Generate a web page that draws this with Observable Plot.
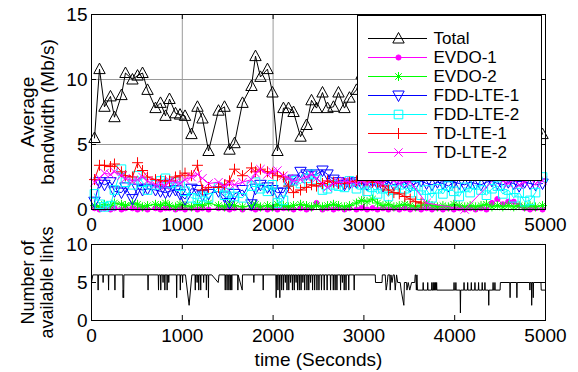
<!DOCTYPE html>
<html><head><meta charset="utf-8">
<script src="https://cdn.jsdelivr.net/npm/d3@7"></script>
<script src="https://cdn.jsdelivr.net/npm/@observablehq/plot@0.6"></script>
<style>
body{margin:0;background:#fff;}
#wrap{position:relative;width:578px;height:372px;font-family:"Liberation Sans",Arial,sans-serif;background:#fff;}
#wrap svg{display:block;}
#legend{position:absolute;left:357px;top:15px;}
</style></head><body><div id="wrap"><div id="top"></div><div id="bottom"></div><div id="legend"></div></div>
<script>
// ---------- data ----------
const times = [33,88,143,209,253,330,374,451,507,562,617,705,760,815,859,925,975,1030,1101,1167,1222,1289,1399,1465,1520,1575,1663,1762,1806,1861,1938,1993,2048,2114,2170,2225,2302,2368,2423,2478,2544,2599,2665,2720,2786,2841,2918,2975,3035,3095,3150,3210,3270,3330,3390,3450,3510,3570,3630,3690,3750,3810,3870,3930,3990,4050,4110,4170,4230,4290,4350,4410,4470,4530,4590,4650,4710,4770,4830,4890,4967];

const total = [5.5,10.8,7.9,8.7,7.1,8.8,10.5,10.0,10.3,10.5,9.2,7.8,8.2,7.2,8.5,7.4,7.3,7.2,5.8,7.9,7.0,4.5,7.6,7.9,4.6,5.1,8.2,9.5,11.8,10.2,10.8,9.0,4.5,7.8,7.8,7.5,5.6,6.5,8.4,7.8,9.0,7.8,7.9,9.0,7.8,8.6,9.2,10.4,9.0,10.2,9.4,8.8,9.8,8.5,7.6,8.2,7.0,6.6,7.4,6.8,7.2,6.5,6.9,7.3,6.4,6.8,6.1,6.9,7.1,6.6,6.3,7.0,6.7,6.4,7.2,6.9,6.5,7.0,6.8,7.4,5.8];

const evdo1 = [0.1,0.0,0.1,0.0,0.1,0.0,0.1,0.1,0.0,0.1,0.0,0.1,0.0,0.1,0.1,0.0,0.1,0.0,0.1,0.0,0.1,0.0,0.1,0.1,0.0,0.1,0.0,0.1,0.0,0.1,0.0,0.1,0.0,0.1,0.1,0.0,0.1,0.0,0.1,0.5,0.0,0.1,0.0,0.1,0.0,0.1,0.0,0.1,0.0,0.1,0.0,0.1,0.0,0.1,0.0,0.1,0.0,0.1,0.0,0.1,0.0,0.1,0.0,0.1,0.0,0.1,0.0,0.1,0.0,0.1,0.0,0.5,0.8,0.4,0.6,0.6,0.3,0.1,0.0,0.1,0.0];

const evdo2 = [0.3,0.2,0.4,0.3,0.5,0.4,0.3,0.5,0.4,0.2,0.3,0.4,0.3,0.5,0.3,0.2,0.4,0.3,0.2,0.4,0.3,0.5,0.3,0.2,0.4,0.3,0.2,0.3,0.4,0.2,0.3,0.2,0.4,0.3,0.2,0.3,0.4,0.3,0.2,0.3,0.2,0.3,0.4,0.3,0.2,0.3,0.5,0.7,0.6,0.8,0.5,0.3,0.4,0.2,0.3,0.4,0.3,0.2,0.3,0.4,0.3,0.2,0.3,0.2,0.4,0.3,0.2,0.3,0.2,0.3,0.4,0.2,0.3,0.2,0.3,0.2,0.3,0.2,0.3,0.2,0.3];

const fddLte1 = [0.6,2.1,1.9,2.1,1.4,1.3,1.7,0.8,1.6,1.5,1.6,1.5,1.4,1.3,1.4,1.5,1.2,0.8,1.6,1.5,1.1,1.2,1.4,1.0,0.5,1.2,1.5,0.4,1.6,1.9,1.7,1.5,1.3,1.3,2.0,2.3,2.9,2.7,2.6,2.7,3.0,2.7,2.3,2.1,1.9,2.0,2.1,2.0,1.9,2.2,2.0,1.8,2.1,1.9,2.0,2.1,1.8,2.0,2.2,2.0,1.9,2.1,2.0,1.8,2.1,2.0,1.9,2.1,2.0,1.9,2.1,2.2,2.0,1.9,2.1,2.0,1.8,2.1,2.0,1.9,2.0];

const fddLte2 = [1.2,0.4,0.2,0.3,1.5,3.1,2.1,1.9,2.6,2.1,1.5,1.9,2.2,2.4,2.0,2.1,1.8,1.4,0.9,0.8,1.0,0.9,1.7,1.1,1.3,1.0,0.9,1.8,2.1,1.6,1.4,1.9,0.5,0.7,2.1,2.2,2.0,2.4,2.7,2.3,1.5,1.6,1.9,1.8,1.7,2.2,1.6,1.9,1.4,1.7,1.2,1.6,1.0,1.5,1.9,1.6,1.3,1.8,1.1,1.5,0.9,1.6,1.2,1.8,1.4,1.0,1.7,1.3,1.9,1.5,1.1,1.6,1.8,1.2,1.5,0.9,1.3,0.6,0.7,1.3,2.5];

const tdLte1 = [2.3,3.4,3.4,3.3,3.5,2.9,2.6,2.5,3.6,3.0,2.5,2.3,2.2,2.2,2.2,2.5,2.6,2.8,2.6,3.4,1.5,1.7,1.7,1.9,2.2,3.1,2.6,3.2,2.9,3.1,2.9,2.8,2.6,2.5,1.8,1.3,1.5,1.7,1.9,1.8,2.0,2.2,2.1,2.0,2.0,2.1,2.2,2.3,2.2,2.1,2.1,1.8,1.5,1.3,1.2,1.0,0.8,0.6,0.5,null,null,null,null,null,null,null,null,null,null,null,null,null,null,null,null,null,null,null,null,null,null];

const tdLte2 = [2.1,2.4,2.8,2.7,2.9,2.6,2.4,2.2,2.3,2.5,2.2,1.9,2.0,1.8,2.2,2.1,2.0,2.3,2.5,2.7,2.4,2.0,2.1,1.8,2.0,1.9,2.1,2.3,2.8,3.1,2.7,2.9,3.0,2.6,2.4,2.2,2.3,2.5,2.7,2.4,2.0,1.7,2.0,2.1,2.2,2.1,2.0,2.2,2.0,2.3,2.1,2.0,2.4,2.2,2.0,2.2,2.1,null,null,0.5,null,null,null,null,null,null,0.0,null,null,null,null,null,2.6,2.2,2.0,2.3,1.9,2.1,2.4,2.0,2.2];

const seriesNames = ["Total","EVDO-1","EVDO-2","FDD-LTE-1","FDD-LTE-2","TD-LTE-1","TD-LTE-2"];
const seriesValues = [total, evdo1, evdo2, fddLte1, fddLte2, tdLte1, tdLte2];
const seriesColors = ["#000000","#ff00ff","#00ff00","#0000ff","#00ffff","#ff0000","#ff00ff"];

// number of available links: [time, count]
const linkSamples = [[0,5],[15,6],[70,6],[73,4],[76,6],[125,6],[128,5],[131,6],[185,6],[188,4],[191,6],[255,6],[258,4],[261,6],[345,6],[348,3],[351,4],[354,3],[357,6],
[620,6],[623,4],[626,6],
[735,6],[738,4],[741,6],[760,6],[763,4],[766,6],[785,6],[788,5],[791,6],[805,6],[808,4],[811,6],[830,6],[833,4],[836,6],[848,6],[851,5],[854,6],
[935,6],[938,3],[941,6],[975,6],[978,4],[981,6],[1000,6],[1003,5],[1006,6],
[1035,6],[1075,2],[1105,6],
[1140,6],[1143,4],[1146,6],[1160,6],[1163,5],[1166,6],[1178,6],[1181,4],[1184,6],[1200,6],[1203,4],[1206,6],[1232,6],[1235,5],[1238,6],[1262,6],[1265,4],[1268,6],[1285,6],[1288,3],[1291,6],
[1325,6],[1395,5],[1405,6],
[1470,6],[1473,4],[1476,6],[1490,6],[1493,4],[1496,6],[1510,6],[1513,4],[1516,6],[1526,6],[1529,4],[1532,6],[1542,6],[1545,4],[1548,6],
[1610,6],[1612,4],[1615,6],[1660,4],[1663,6],
[1785,6],[1788,5],[1791,6],
[1888,6],[1891,4],[1894,6],
[2030,6],[2034,3],[2038,6],[2050,6],[2053,4],[2056,6],[2070,6],[2074,3],[2078,6],[2092,6],[2095,4],[2098,6],
[2112,6],[2115,4],[2118,6],[2132,6],[2135,5],[2138,6],[2150,6],[2153,4],[2156,6],[2170,6],[2173,4],[2176,6],[2190,6],[2193,5],[2196,6],[2210,6],[2213,4],[2216,6],[2230,6],[2233,4],[2236,6],[2250,6],[2253,5],[2256,6],[2266,6],[2269,4],[2272,6],[2285,6],[2288,4],[2291,6],[2305,6],[2308,4],[2311,6],[2325,6],[2328,5],[2331,6],[2345,6],[2348,4],[2351,6],[2370,6],[2373,4],[2376,6],[2390,6],[2393,4],[2396,6],[2410,6],[2413,5],[2416,6],[2432,6],[2435,4],[2438,6],[2455,6],[2458,4],[2461,6],[2480,6],[2483,4],[2486,6],[2502,6],[2505,4],[2508,6],[2530,6],[2533,4],[2536,6],[2560,6],[2563,4],[2566,6],[2592,6],[2595,4],[2598,6],
[2630,6],[2633,4],[2636,6],[2660,6],[2663,4],[2666,6],[2680,6],[2683,4],[2686,6],[2700,6],[2703,4],[2706,6],[2740,6],[2743,4],[2746,6],[2760,6],[2763,5],[2766,6],[2780,6],[2783,4],[2786,6],[2800,6],[2803,4],[2806,6],[2830,6],[2833,4],[2836,6],[2890,6],[2893,4],[2896,6],
[3125,6],[3128,5],[3200,5],[3203,6],[3235,6],[3245,4],[3258,5],[3265,6],[3285,6],[3290,4],[3298,6],[3310,5],[3322,6],[3335,6],[3345,4],[3352,5],[3360,6],[3372,5],[3400,5],[3410,4],[3440,2],[3446,5],[3470,5],[3474,4],[3488,5],[3505,4],[3525,5],[3560,5],[3565,6],[3572,6],[3578,4],[3584,6],[3590,4],
[3650,4],[3653,5],[3656,4],[3700,4],[3703,5],[3706,4],[3745,4],[3748,5],[3751,4],[3760,4],[3763,5],[3766,4],[3772,4],[3775,5],[3778,4],[3785,4],[3788,5],[3791,4],[3798,4],[3801,5],[3804,4],
[3990,4],[3993,5],[3996,4],[4010,4],[4013,5],[4016,4],[4060,4],[4063,1],[4066,4],
[4100,4],[4103,5],[4106,4],[4140,4],[4143,5],[4146,4],[4180,4],[4183,5],[4186,4],[4220,4],[4223,5],[4226,4],[4260,4],[4263,5],[4266,4],[4300,4],[4303,5],[4306,4],[4330,4],[4333,5],[4336,4],
[4372,4],[4375,2],[4378,4],[4420,4],[4423,5],[4426,4],[4440,4],[4443,5],[4446,4],[4500,4],[4503,5],
[4607,5],[4610,3],[4613,5],[4682,5],[4685,3],[4688,5],
[4825,5],[4828,4],[4831,5],[4845,5],[4848,2],[4851,5],[4862,5],[4865,3],[4868,5],
[4950,5],[4953,4],[5000,4]];

const xTicks = [0,1000,2000,3000,4000,5000];
const xGrid = [1000,2000,3000,4000];
const bwTicks = [0,5,10,15];
const bwGrid = [5,10];
const linkTicks = [0,5,10];
const bwLabel = "Average\nbandwidth (Mb/s)";
const linkLabel = "Number of\navailable links";
const timeLabel = "time (Seconds)";

// ---------- symbols ----------
function sym(f){ return {draw(ctx, size){ f(ctx, Math.sqrt(size/Math.PI)); }}; }
const triUp = sym((c,r)=>{c.moveTo(0,-r); c.lineTo(r*0.95,r*0.75); c.lineTo(-r*0.95,r*0.75); c.closePath();});
const triDown = sym((c,r)=>{c.moveTo(0,r); c.lineTo(r*0.95,-r*0.75); c.lineTo(-r*0.95,-r*0.75); c.closePath();});
const square = sym((c,r)=>{c.moveTo(-r,-r); c.lineTo(r,-r); c.lineTo(r,r); c.lineTo(-r,r); c.closePath();});
const plus = sym((c,r)=>{c.moveTo(-r,0); c.lineTo(r,0); c.moveTo(0,-r); c.lineTo(0,r);});
const cross = sym((c,r)=>{c.moveTo(-r,-r); c.lineTo(r,r); c.moveTo(-r,r); c.lineTo(r,-r);});
const aster = sym((c,r)=>{c.moveTo(-r,0); c.lineTo(r,0); c.moveTo(0,-r); c.lineTo(0,r); const q=r*0.72; c.moveTo(-q,-q); c.lineTo(q,q); c.moveTo(-q,q); c.lineTo(q,-q);});
const dotSym = sym((c,r)=>{c.moveTo(r,0); c.arc(0,0,r,0,2*Math.PI);});
const markerStyle = [
  {symbol: triUp, r: 6, filled: false},
  {symbol: dotSym, r: 2.6, filled: true},
  {symbol: aster, r: 4.5, filled: false},
  {symbol: triDown, r: 6, filled: false},
  {symbol: square, r: 4.3, filled: false},
  {symbol: plus, r: 5.5, filled: false},
  {symbol: cross, r: 4.2, filled: false}
];

const FONT = '"Liberation Sans", Arial, sans-serif';
const FS = 19;
const fmt = d => String(d);

function frameTicks(xt, yt, W, H, mt, mb, ml, mr) {
  const ph = H - mt - mb, pw = W - ml - mr, L = 5;
  return [
    Plot.tickX(xt, {x: d => d, insetTop: ph - L, stroke: "black"}),
    Plot.tickX(xt, {x: d => d, insetBottom: ph - L, stroke: "black"}),
    Plot.tickY(yt, {y: d => d, insetRight: pw - L, stroke: "black"}),
    Plot.tickY(yt, {y: d => d, insetLeft: pw - L, stroke: "black"})
  ];
}

// ---------- top chart ----------
{
  const W = 578, H = 236, mt = 14, mb = 27, ml = 91, mr = 33;
  const marks = [
    Plot.ruleX(xGrid, {x: d => d, stroke: "#9a9a9a", strokeWidth: 1}),
    Plot.ruleY(bwGrid, {y: d => d, stroke: "#9a9a9a", strokeWidth: 1})
  ];
  seriesNames.forEach((name, k) => {
    const rows = times.map((t, i) => ({t, v: seriesValues[k][i]}));
    const ms = markerStyle[k];
    marks.push(Plot.line(rows, {x: "t", y: "v", filter: d => d.v != null, stroke: seriesColors[k], strokeWidth: 1}));
    marks.push(Plot.dot(rows, {x: "t", y: "v", filter: d => d.v != null, symbol: ms.symbol, r: ms.r,
      stroke: seriesColors[k], strokeWidth: 1, fill: ms.filled ? seriesColors[k] : "none"}));
  });
  marks.push(...frameTicks(xTicks, bwTicks, W, H, mt, mb, ml, mr));
  marks.push(Plot.frame({stroke: "black", strokeWidth: 1}));
  marks.push(Plot.axisX(xTicks, {tickSize: 0, tickPadding: 8, fontSize: FS, tickFormat: fmt, label: null}));
  marks.push(Plot.axisY(bwTicks, {tickSize: 0, tickPadding: 4, fontSize: FS, tickFormat: fmt, label: null}));
  marks.push(Plot.text([bwLabel], {frameAnchor: "left", textAnchor: "middle", lineAnchor: "middle", rotate: -90, dx: -54, lineHeight: 1.05, fontSize: FS}));
  const chart = Plot.plot({
    width: W, height: H, marginTop: mt, marginBottom: mb, marginLeft: ml, marginRight: mr,
    x: {domain: [0, 5000], axis: null, label: null},
    y: {domain: [0, 15], axis: null, label: null},
    style: {fontFamily: FONT, fontSize: FS + "px", background: "white", color: "black"},
    marks
  });
  document.getElementById("top").append(chart);
}

// ---------- bottom chart ----------
{
  const W = 578, H = 136, mt = 8, mb = 52, ml = 91, mr = 33;
  const rows = linkSamples.map(([t, n]) => ({t, n}));
  const marks = [
    Plot.line(rows, {x: "t", y: "n", stroke: "black", strokeWidth: 1}),
    ...frameTicks(xTicks, linkTicks, W, H, mt, mb, ml, mr),
    Plot.frame({stroke: "black", strokeWidth: 1}),
    Plot.axisX(xTicks, {tickSize: 0, tickPadding: 8, fontSize: FS, tickFormat: fmt, label: null}),
    Plot.axisY(linkTicks, {tickSize: 0, tickPadding: 4, fontSize: FS, tickFormat: fmt, label: null}),
    Plot.text([linkLabel], {frameAnchor: "left", textAnchor: "middle", lineAnchor: "middle", rotate: -90, dx: -54, lineHeight: 1.05, fontSize: 18}),
    Plot.text([timeLabel], {frameAnchor: "bottom", textAnchor: "middle", lineAnchor: "middle", dy: 39, fontSize: FS})
  ];
  const chart = Plot.plot({
    width: W, height: H, marginTop: mt, marginBottom: mb, marginLeft: ml, marginRight: mr,
    x: {domain: [0, 5000], axis: null, label: null},
    y: {domain: [0, 10], axis: null, label: null},
    style: {fontFamily: FONT, fontSize: FS + "px", background: "transparent", color: "black", overflow: "visible"},
    marks
  });
  document.getElementById("bottom").append(chart);
}

// ---------- legend ----------
{
  const LW = 184, LH = 165;
  const items = seriesNames.map((name, k) => ({name, color: seriesColors[k], k}));
  const marks = [Plot.frame({stroke: "black", fill: "white", strokeWidth: 1})];
  marks.push(Plot.ruleY(items, {y: "name", x1: 11, x2: 70, stroke: "color", strokeWidth: 1}));
  items.forEach(d => {
    const ms = markerStyle[d.k];
    marks.push(Plot.dot([d], {y: "name", x: 41, symbol: ms.symbol, r: ms.r, stroke: d.color, strokeWidth: 1, fill: ms.filled ? d.color : "none"}));
  });
  marks.push(Plot.text(items, {y: "name", x: 76, text: "name", textAnchor: "start", fontSize: 17}));
  const legend = Plot.plot({
    width: LW, height: LH, margin: 0,
    x: {domain: [0, LW], range: [0, LW], axis: null},
    y: {type: "point", domain: seriesNames, range: [12.5, 147.5], axis: null},
    color: {type: "identity"},
    style: {fontFamily: FONT, fontSize: "17px", background: "white", color: "black", overflow: "visible"},
    marks
  });
  document.getElementById("legend").append(legend);
}
</script></body></html>
